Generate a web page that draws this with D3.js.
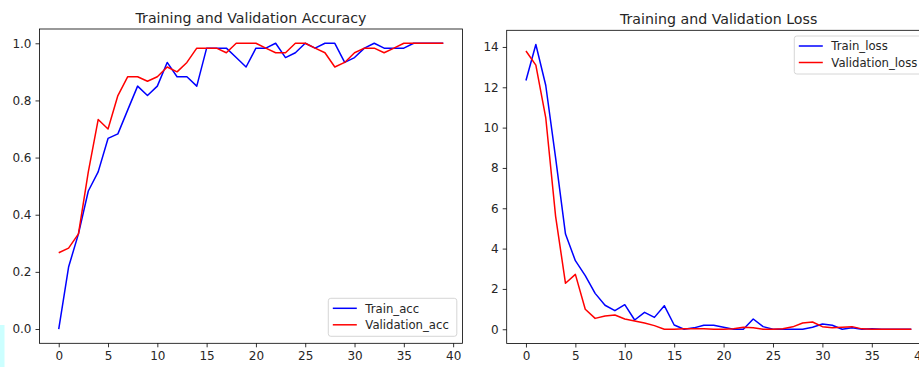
<!DOCTYPE html>
<html>
<head>
<meta charset="utf-8">
<script src="https://cdn.jsdelivr.net/npm/d3@7"></script>
<style>
  body { margin: 0; background: #fff; }
  svg text { font-family: "DejaVu Sans", sans-serif; fill: #262626; }
</style>
</head>
<body>
<svg id="chart" width="919" height="367"></svg>
<script>
// epochs 0..39
const epochs = d3.range(0, 40);

const trainAcc = [0.0, 0.217, 0.333, 0.483, 0.55, 0.667, 0.683, 0.767, 0.85, 0.817,
  0.85, 0.933, 0.883, 0.883, 0.85, 0.983, 0.983, 0.983, 0.95, 0.917,
  0.983, 0.983, 1.0, 0.95, 0.967, 1.0, 0.983, 1.0, 1.0, 0.933,
  0.95, 0.983, 1.0, 0.983, 0.983, 0.983, 1.0, 1.0, 1.0, 1.0];

const valAcc = [0.267, 0.283, 0.333, 0.55, 0.733, 0.7, 0.817, 0.883, 0.883, 0.867,
  0.883, 0.917, 0.9, 0.933, 0.983, 0.983, 0.983, 0.967, 1.0, 1.0,
  1.0, 0.983, 0.967, 0.967, 1.0, 1.0, 0.983, 0.967, 0.917, 0.933,
  0.967, 0.983, 0.983, 0.967, 0.983, 1.0, 1.0, 1.0, 1.0, 1.0];

const trainLoss = [12.34, 14.12, 12.1, 8.5, 4.72, 3.4, 2.66, 1.78, 1.19, 0.92,
  1.22, 0.46, 0.84, 0.59, 1.17, 0.21, 0.0, 0.07, 0.2, 0.2,
  0.1, 0.0, 0.0, 0.51, 0.13, 0.0, 0.0, 0.0, 0.0, 0.1,
  0.26, 0.2, 0.0, 0.07, 0.0, 0.03, 0.0, 0.0, 0.0, 0.0];

const valLoss = [13.8, 13.1, 10.5, 5.6, 2.28, 2.72, 0.99, 0.54, 0.66, 0.71,
  0.51, 0.41, 0.31, 0.18, 0.0, 0.0, 0.02, 0.03, 0.02, 0.0,
  0.0, 0.03, 0.1, 0.08, 0.0, 0.0, 0.03, 0.12, 0.31, 0.36,
  0.13, 0.07, 0.1, 0.13, 0.02, 0.0, 0.0, 0.0, 0.0, 0.0];

const xTicks = [0, 5, 10, 15, 20, 25, 30, 35, 40];
const accTicks = [0.0, 0.2, 0.4, 0.6, 0.8, 1.0];
const lossTicks = [0, 2, 4, 6, 8, 10, 12, 14];

const svg = d3.select("#chart");

// light cyan strip at the bottom left corner of the screenshot
svg.append("rect")
  .attr("x", 0).attr("y", 325).attr("width", 4.5).attr("height", 42)
  .attr("fill", "#ccffff");

function pad(ext) {
  const span = ext[1] - ext[0];
  return [ext[0] - span * 0.05, ext[1] + span * 0.05];
}

function drawPanel(box, title, series, yTicks, yFmt, legendPos) {
  const g = svg.append("g");

  const x = d3.scaleLinear()
    .domain(pad([0, 39]))
    .range([box.left, box.right]);

  const allY = series.flatMap(s => s.values);
  const y = d3.scaleLinear()
    .domain(pad(d3.extent(allY)))
    .range([box.bottom, box.top]);

  // frame
  g.append("rect")
    .attr("x", box.left).attr("y", box.top)
    .attr("width", box.right - box.left).attr("height", box.bottom - box.top)
    .attr("fill", "none").attr("stroke", "#000").attr("stroke-width", 0.8);

  const xAxis = g.append("g")
    .attr("transform", "translate(0," + box.bottom + ")")
    .call(d3.axisBottom(x).tickValues(xTicks).tickSize(4).tickPadding(4).tickFormat(d3.format("d")));
  const yAxis = g.append("g")
    .attr("transform", "translate(" + box.left + ",0)")
    .call(d3.axisLeft(y).tickValues(yTicks).tickSize(4).tickPadding(4).tickFormat(yFmt));

  [xAxis, yAxis].forEach(a => {
    a.select(".domain").remove();
    a.selectAll(".tick line").attr("stroke", "#000").attr("stroke-width", 0.8);
    a.selectAll(".tick text").style("font-size", "12px").attr("fill", "#262626");
  });

  g.append("text")
    .attr("x", (box.left + box.right) / 2)
    .attr("y", box.top - 6.5)
    .attr("text-anchor", "middle")
    .style("font-size", "14.2px")
    .text(title);

  const line = d3.line()
    .x((d, i) => x(epochs[i]))
    .y(d => y(d));

  series.forEach(s => {
    g.append("path")
      .datum(s.values)
      .attr("fill", "none")
      .attr("stroke", s.color)
      .attr("stroke-width", 1.5)
      .attr("stroke-linejoin", "round")
      .attr("d", line);
  });

  // legend
  const lg = g.append("g").attr("transform", "translate(" + legendPos.x + "," + legendPos.y + ")");
  lg.append("rect")
    .attr("x", 0).attr("y", 0)
    .attr("width", legendPos.w).attr("height", 38)
    .attr("rx", 2.5)
    .attr("fill", "#fff").attr("fill-opacity", 0.8)
    .attr("stroke", "#cccccc").attr("stroke-width", 0.8);
  series.forEach((s, i) => {
    const cy = 10 + i * 16.5;
    lg.append("line")
      .attr("x1", 4.5).attr("x2", 28.5)
      .attr("y1", cy).attr("y2", cy)
      .attr("stroke", s.color).attr("stroke-width", 1.5);
    lg.append("text")
      .attr("x", 37).attr("y", cy)
      .attr("dy", "0.36em")
      .style("font-size", "11.7px")
      .text(s.name);
  });
}

drawPanel(
  { left: 39.5, right: 462.5, top: 29, bottom: 343.3 },
  "Training and Validation Accuracy",
  [
    { name: "Train_acc", values: trainAcc, color: "blue" },
    { name: "Validation_acc", values: valAcc, color: "red" }
  ],
  accTicks, d3.format(".1f"),
  { x: 328.3, y: 298.3, w: 128.5 }
);

drawPanel(
  { left: 506.7, right: 930.6, top: 30.3, bottom: 343.5 },
  "Training and Validation Loss",
  [
    { name: "Train_loss", values: trainLoss, color: "blue" },
    { name: "Validation_loss", values: valLoss, color: "red" }
  ],
  lossTicks, d3.format("d"),
  { x: 794.3, y: 36, w: 130 }
);
</script>
</body>
</html>
